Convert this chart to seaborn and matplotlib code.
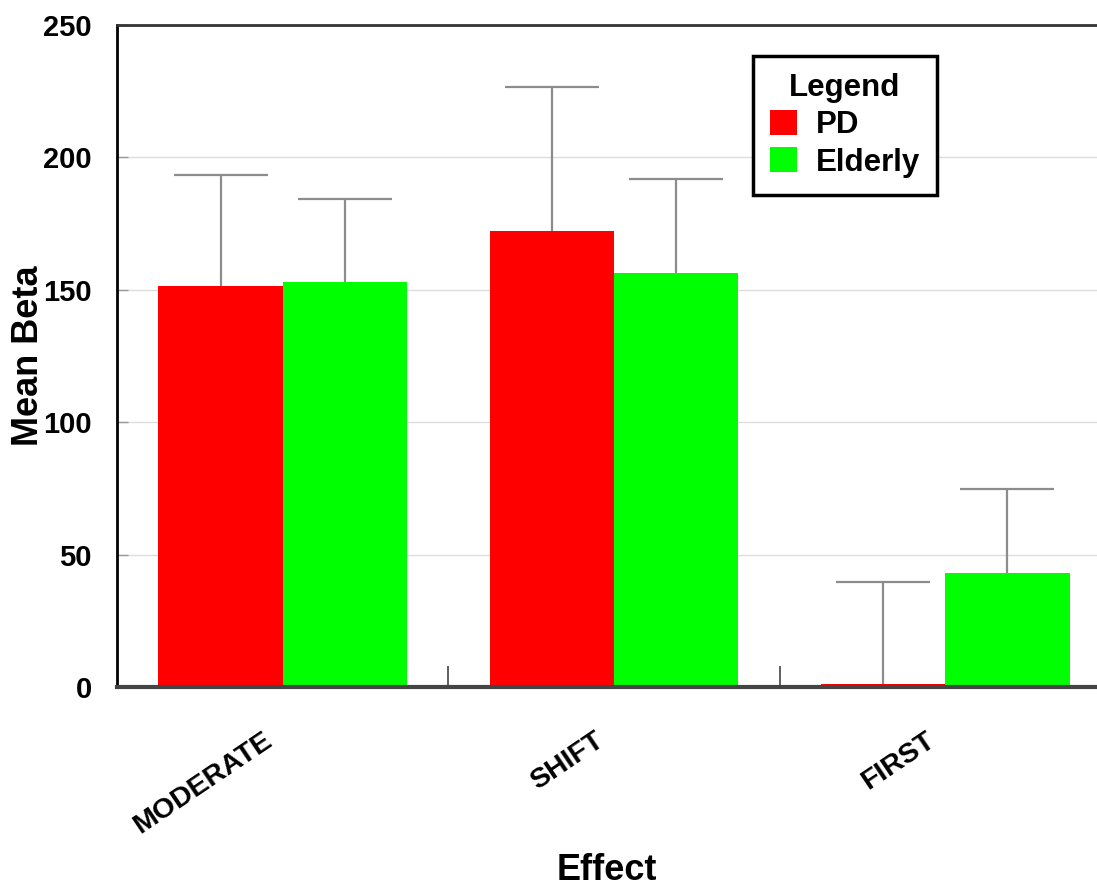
import matplotlib
matplotlib.use("Agg")
import matplotlib.pyplot as plt
import matplotlib.transforms as mtransforms
import seaborn as sns
import pandas as pd
import numpy as np

effects = ["MODERATE", "SHIFT", "FIRST"]
groups = ["PD", "Elderly"]
pd_mean = [151.4, 172.3, 1.0]
pd_err = [42.0, 54.4, 38.8]
elderly_mean = [153.1, 156.3, 43.2]
elderly_err = [31.2, 35.4, 31.6]
colors = ["#ff0000", "#00ff00"]

sns.set_style("white")
plt.rcParams["font.family"] = ["Liberation Sans", "DejaVu Sans"]
plt.rcParams["font.weight"] = "bold"
plt.rcParams["axes.labelweight"] = "bold"
for key in ["text.color", "axes.labelcolor", "xtick.labelcolor", "ytick.labelcolor"]:
    plt.rcParams[key] = "black"

df = pd.DataFrame({
    "Effect": effects * 2,
    "Group": ["PD"] * 3 + ["Elderly"] * 3,
    "Beta": pd_mean + elderly_mean,
})
errs = {"PD": pd_err, "Elderly": elderly_err}

fig = plt.figure(figsize=(10.97, 8.88), dpi=100)
ax = fig.add_axes([117 / 1097, 1 - 687 / 888, 980 / 1097, 662 / 888])

sns.barplot(data=df, x="Effect", y="Beta", hue="Group", hue_order=groups,
            order=effects, palette=colors, width=0.75, errorbar=None,
            saturation=1, linewidth=0, ax=ax, zorder=2)

# upper error bars only, cap only at the top
for cont, g in zip(ax.containers, groups):
    xs = [p.get_x() + p.get_width() / 2 for p in cont]
    ys = [p.get_height() for p in cont]
    eb = ax.errorbar(xs, ys, yerr=[np.zeros(len(xs)), errs[g]], fmt="none",
                     ecolor="#8c8c8c", elinewidth=1.6, capsize=34,
                     capthick=1.6, zorder=3)
    for cap in eb[1]:
        if np.allclose(cap.get_ydata(), ys):
            cap.set_visible(False)
        else:
            cap.set_color("#777777")

ax.set_xlim(-0.5, 2.458)
ax.set_ylim(0, 250)
ax.set_yticks([0, 50, 100, 150, 200, 250])
ax.yaxis.grid(True, color="#dddddd", linewidth=1)
ax.set_axisbelow(True)

for side, col, lw in [("top", "#333333", 2), ("left", "#000000", 2),
                      ("bottom", "#444444", 3)]:
    ax.spines[side].set_color(col)
    ax.spines[side].set_linewidth(lw)
ax.spines["right"].set_visible(False)

ax.tick_params(axis="y", left=True, direction="in", length=8,
               color="#999999", width=1, pad=18, labelsize=21)
ax.set_xticks([0.5, 1.5], minor=True)
ax.tick_params(axis="x", which="minor", bottom=True, direction="in",
               length=15, color="#444444", width=1.2)
ax.tick_params(axis="x", which="major", bottom=True, length=0, pad=29,
               labelsize=20.5)

offset = mtransforms.ScaledTranslation(-20 / 100, 0, fig.dpi_scale_trans)
for lab in ax.get_xticklabels():
    lab.set_rotation(34)
    lab.set_ha("right")
    lab.set_va("top")
    lab.set_rotation_mode("anchor")
    lab.set_transform(lab.get_transform() + offset)

ax.set_xlabel("Effect", fontsize=26)
ax.set_ylabel("Mean Beta", fontsize=26)
ax.xaxis.set_label_coords(0.5, -0.25)
ax.yaxis.set_label_coords(-0.072, 0.5)

handles, labels = ax.get_legend_handles_labels()
ax.legend(handles, labels, title="Legend", loc="upper left",
          bbox_to_anchor=(0.649, 0.953), borderaxespad=0, frameon=True,
          fancybox=False, edgecolor="black", framealpha=1,
          prop={"size": 22.5, "weight": "bold"},
          title_fontproperties={"size": 22.5, "weight": "bold"},
          handlelength=0.85, handleheight=0.85, handletextpad=0.6,
          labelspacing=0.22, borderpad=0.55)
ax.get_legend().get_frame().set_linewidth(2.5)

fig.savefig("out.png", dpi=100)
